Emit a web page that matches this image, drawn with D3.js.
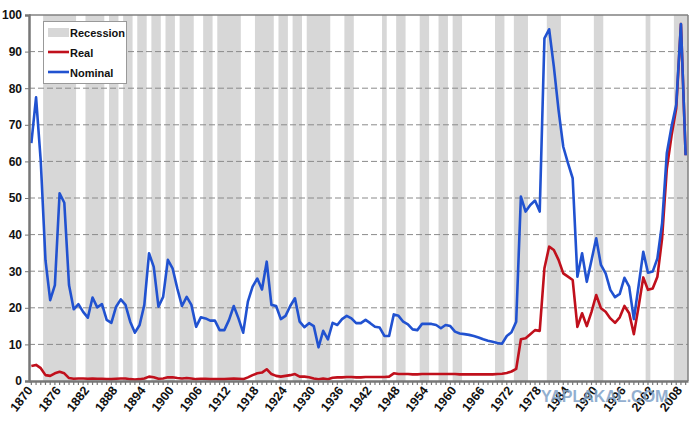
<!DOCTYPE html>
<html>
<head>
<meta charset="utf-8">
<script src="https://cdn.jsdelivr.net/npm/d3@7"></script>
<style>
  body { margin: 0; background: #fff; }
  text { font-family: "Liberation Sans", Arial, sans-serif; font-weight: bold; fill: #111; }
</style>
</head>
<body>
<div id="chart"></div>
<script>
var firstYear = 1870, lastYear = 2009;
var years = d3.range(firstYear, lastYear + 1);

var nominal = [
  65.0, 77.5, 60.0, 33.0, 22.1, 26.2, 51.3, 48.7, 26.2, 19.6,
  21.0, 18.9, 17.3, 22.8, 20.1, 21.0, 16.7, 15.9, 20.3, 22.3,
  20.8, 16.2, 13.2, 15.3, 20.8, 34.9, 31.2, 20.3, 23.0, 33.1,
  30.8, 25.3, 20.5, 23.0, 20.8, 14.8, 17.4, 17.1, 16.5, 16.5,
  13.9, 13.9, 16.7, 20.5, 17.1, 13.2, 21.7, 25.8, 28.0, 25.0,
  32.6, 20.8, 20.5, 16.9, 17.8, 20.5, 22.6, 16.2, 14.7, 15.8,
  15.0, 9.2, 13.7, 11.4, 15.9, 15.3, 16.9, 17.8, 17.1, 15.8,
  15.8, 16.7, 15.8, 14.8, 14.6, 12.3, 12.3, 18.2, 17.8, 16.2,
  15.5, 14.1, 13.9, 15.6, 15.6, 15.6, 15.3, 14.4, 15.3, 15.0,
  13.5, 13.0, 12.8, 12.6, 12.3, 11.9, 11.4, 11.0, 10.7, 10.4,
  10.2, 12.3, 13.3, 16.2, 50.4, 46.3, 48.1, 49.3, 46.3, 93.6,
  96.1, 85.9, 74.0, 64.0, 59.5, 55.4, 28.5, 34.9, 27.1, 33.0,
  39.0, 31.7, 29.4, 24.9, 22.9, 23.8, 28.2, 25.8, 16.9, 26.0,
  35.3, 29.6, 29.9, 33.5, 43.1, 62.2, 69.5, 75.5, 97.5, 61.7
];

var real = [
  4.1, 4.4, 3.5, 1.6, 1.4, 2.1, 2.5, 2.1, 0.8, 0.6,
  0.7, 0.7, 0.6, 0.7, 0.6, 0.6, 0.5, 0.5, 0.6, 0.7,
  0.7, 0.5, 0.4, 0.5, 0.7, 1.2, 1.0, 0.6, 0.7, 1.0,
  1.0, 0.8, 0.7, 0.8, 0.7, 0.5, 0.6, 0.6, 0.5, 0.5,
  0.5, 0.5, 0.6, 0.7, 0.6, 0.5, 1.0, 1.6, 2.1, 2.3,
  3.2, 1.9, 1.4, 1.2, 1.4, 1.6, 1.9, 1.2, 1.2, 1.0,
  0.7, 0.5, 0.7, 0.5, 0.9, 1.0, 1.0, 1.1, 1.1, 1.0,
  1.0, 1.1, 1.1, 1.1, 1.1, 1.1, 1.2, 2.1, 1.9, 1.9,
  1.9, 1.8, 1.8, 1.9, 1.9, 1.9, 1.9, 1.9, 1.9, 1.9,
  1.9, 1.8, 1.8, 1.8, 1.8, 1.8, 1.8, 1.8, 1.8, 1.9,
  2.0, 2.2, 2.6, 3.3, 11.4, 11.7, 12.8, 13.9, 13.7, 30.8,
  36.7, 35.8, 33.1, 29.4, 28.5, 27.6, 14.8, 18.5, 15.0, 18.9,
  23.5, 19.9, 18.9, 17.1, 15.9, 17.4, 20.5, 18.5, 12.8, 20.3,
  28.3, 24.9, 25.3, 28.5, 39.0, 58.0, 67.0, 74.5, 97.5, 61.7
];

// shaded years, [first, last]
var recessions = [
  [1873, 1879], [1882, 1885], [1887, 1888], [1890, 1891], [1893, 1894],
  [1896, 1897], [1899, 1900], [1902, 1904], [1907, 1908], [1910, 1914],
  [1918, 1921], [1923, 1924], [1926, 1927], [1929, 1933], [1937, 1938],
  [1945, 1945], [1948, 1949], [1953, 1954], [1957, 1958], [1960, 1961],
  [1969, 1970], [1973, 1975], [1980, 1982], [1990, 1991], [2001, 2001],
  [2007, 2009]
];

var yTicks = [0, 10, 20, 30, 40, 50, 60, 70, 80, 90, 100];
var xLabelYears = d3.range(1870, 2009, 6);
var legendItems = ["Recession", "Real", "Nominal"];

var w = 700, h = 426;
var pLeft = 29, pRight = 688, pTop = 15, pBottom = 381;

var svg = d3.select("#chart").append("svg").attr("width", w).attr("height", h);

var x = d3.scaleBand().domain(years).range([pLeft, pRight]).padding(0);
var y = d3.scaleLinear().domain([0, 100]).range([pBottom, pTop]);
var cx = function(yr){ return x(yr) + x.bandwidth() / 2; };

svg.append("rect").attr("x", pLeft).attr("y", pTop).attr("width", pRight - pLeft).attr("height", pBottom - pTop)
   .attr("fill", "#fff");

// recession bars
svg.append("g").selectAll("rect").data(recessions).enter().append("rect")
   .attr("x", function(d){ return x(d[0]); })
   .attr("width", function(d){ return x(d[1]) + x.bandwidth() - x(d[0]); })
   .attr("y", y(100)).attr("height", y(0) - y(100))
   .attr("fill", "#d7d7d7");

// gridlines
svg.append("g").selectAll("line").data(yTicks.filter(function(v){ return v > 0 && v < 100; })).enter().append("line")
   .attr("x1", pLeft).attr("x2", pRight)
   .attr("y1", function(d){ return y(d); }).attr("y2", function(d){ return y(d); })
   .attr("stroke", "#8a8a8a").attr("stroke-width", 1).attr("stroke-dasharray", "6,3");

// lines
var line = function(vals){
  return d3.line().x(function(d, i){ return cx(years[i]); }).y(function(d){ return y(d); })(vals);
};
svg.append("path").attr("d", line(real)).attr("fill", "none")
   .attr("stroke", "#c0101c").attr("stroke-width", 2.6).attr("stroke-linejoin", "round");
svg.append("path").attr("d", line(nominal)).attr("fill", "none")
   .attr("stroke", "#2152d0").attr("stroke-width", 2.6).attr("stroke-linejoin", "round");

// frame
svg.append("line").attr("x1", pLeft).attr("x2", pRight).attr("y1", pTop).attr("y2", pTop)
   .attr("stroke", "#808080").attr("stroke-width", 1.5);
svg.append("line").attr("x1", pRight).attr("x2", pRight).attr("y1", pTop).attr("y2", pBottom)
   .attr("stroke", "#808080").attr("stroke-width", 1.5);

// y axis
var yAxis = svg.append("g").attr("transform", "translate(" + pLeft + ",0)")
   .call(d3.axisLeft(y).tickValues(yTicks).tickSize(4).tickPadding(3));
yAxis.select(".domain").attr("stroke", "#777").attr("stroke-width", 2.5);
yAxis.selectAll(".tick line").attr("stroke", "#777");
yAxis.selectAll("text").style("font-size", "12px").attr("fill", "#111");

// x axis
var xAxis = svg.append("g").attr("transform", "translate(0," + pBottom + ")")
   .call(d3.axisBottom(x).tickSize(4).tickSizeOuter(0)
     .tickFormat(function(d){ return xLabelYears.indexOf(d) >= 0 ? d : ""; }));
xAxis.select(".domain").attr("stroke", "#777").attr("stroke-width", 2.5);
xAxis.selectAll(".tick line").attr("stroke", "#777").attr("stroke-width", 1.2);
xAxis.selectAll("text").style("font-size", "12.5px").attr("fill", "#111")
   .attr("text-anchor", "end").attr("x", -6.3).attr("y", 7.4).attr("dy", 0)
   .attr("transform", "rotate(-52)");

// legend
var lg = svg.append("g");
lg.append("rect").attr("x", 43.5).attr("y", 21.5).attr("width", 83).attr("height", 62)
  .attr("fill", "#fff").attr("stroke", "#999").attr("stroke-width", 1);
lg.append("rect").attr("x", 48).attr("y", 28).attr("width", 21).attr("height", 9).attr("fill", "#d7d7d7");
lg.append("line").attr("x1", 48).attr("x2", 69).attr("y1", 52).attr("y2", 52)
  .attr("stroke", "#c0101c").attr("stroke-width", 2.6);
lg.append("line").attr("x1", 48).attr("x2", 69).attr("y1", 72).attr("y2", 72)
  .attr("stroke", "#2152d0").attr("stroke-width", 2.6);
lg.selectAll("text.lg").data(legendItems).enter().append("text").attr("class", "lg")
  .attr("x", 70).attr("y", function(d, i){ return 37 + i * 20; })
  .style("font-size", "11px").text(function(d){ return d; });

// watermark
svg.append("text").attr("x", 541).attr("y", 402).text("YAPLAKAL.COM")
   .style("font-size", "16px").style("fill", "#7fa2c8").style("opacity", 0.85);
</script>
</body>
</html>
